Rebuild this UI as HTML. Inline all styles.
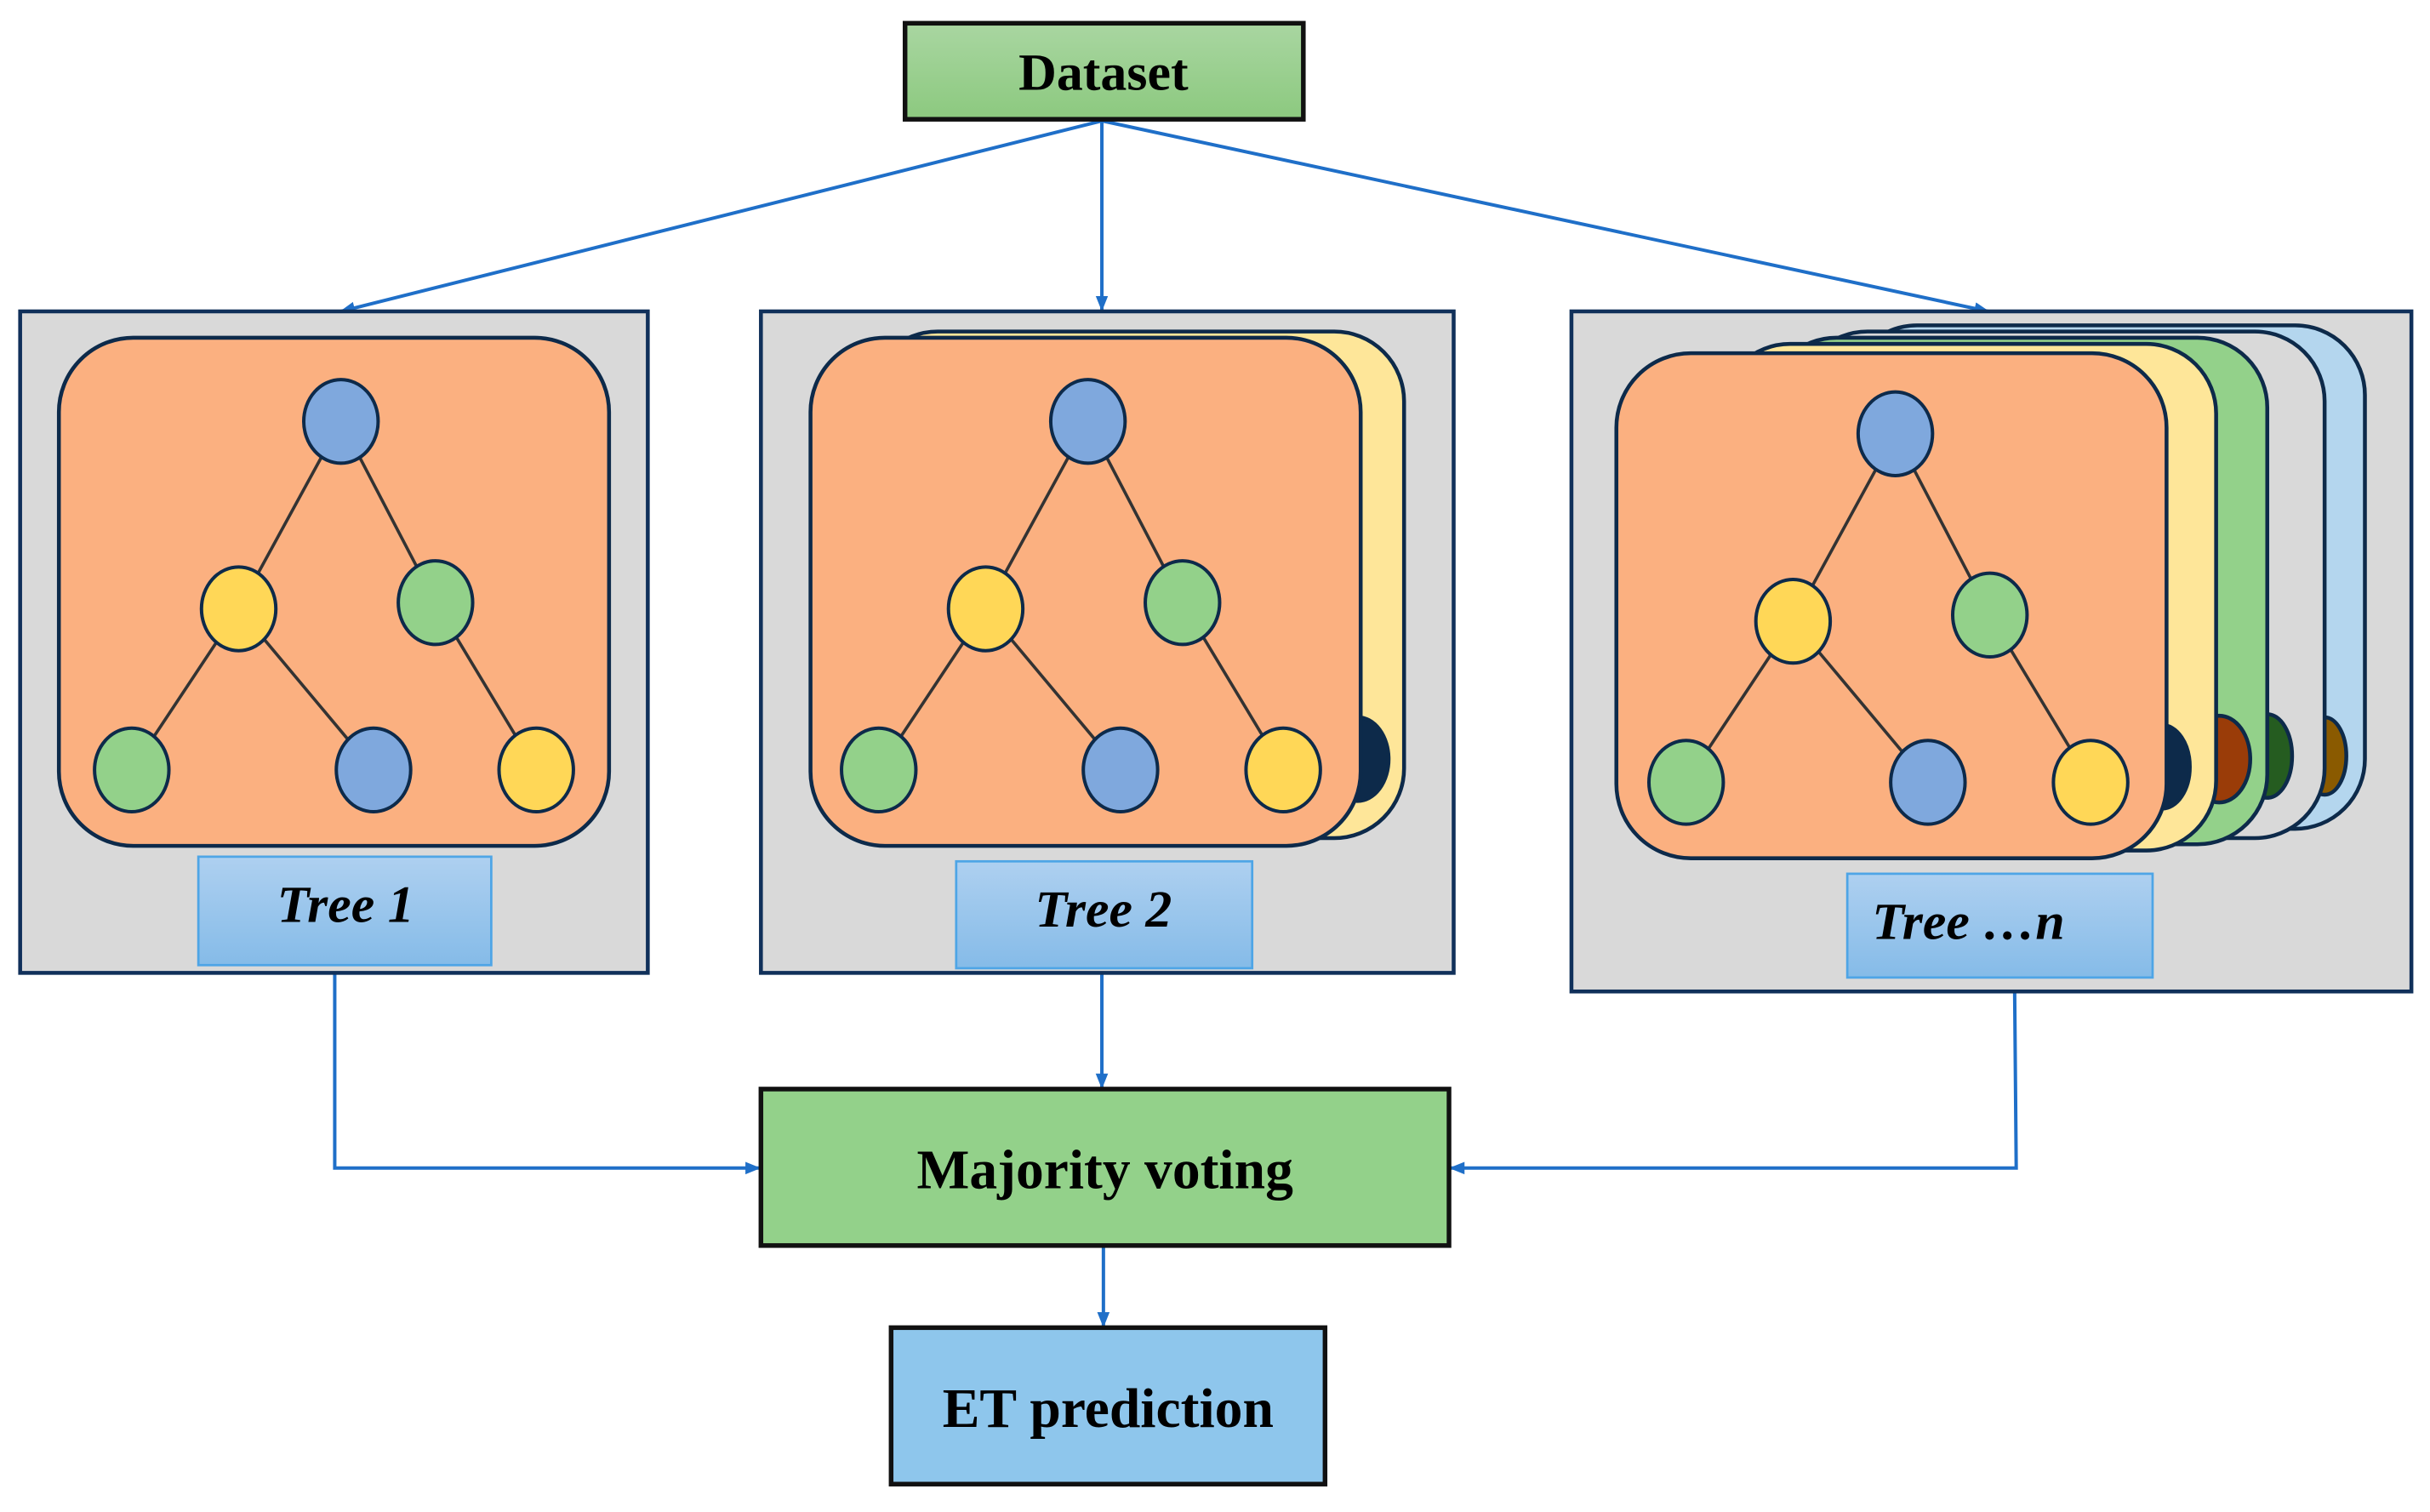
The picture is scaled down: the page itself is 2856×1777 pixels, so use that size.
<!DOCTYPE html>
<html><head><meta charset="utf-8"><style>html,body{margin:0;padding:0;background:#fff}svg{display:block}</style></head>
<body>
<svg width="2856" height="1777" viewBox="0 0 1568 976" preserveAspectRatio="none" xmlns="http://www.w3.org/2000/svg" font-family="'Liberation Serif', serif">
<defs>
<linearGradient id="gG" x1="0" y1="0" x2="0" y2="1"><stop offset="0" stop-color="#a9d6a1"/><stop offset="1" stop-color="#8cc97f"/></linearGradient>
<linearGradient id="gB" x1="0" y1="0" x2="0" y2="1"><stop offset="0" stop-color="#aed0f0"/><stop offset="1" stop-color="#85bbe8"/></linearGradient>
<marker id="ar" markerWidth="10" markerHeight="10" refX="9" refY="5" orient="auto" markerUnits="userSpaceOnUse"><path d="M0,1 L10,5 L0,9 Z" fill="#1f6fc8"/></marker>
</defs>
<g stroke="#1f6fc8" stroke-width="2.2" fill="none" marker-end="url(#ar)">
<line x1="711" y1="78" x2="220" y2="201"/>
<line x1="711" y1="78" x2="711" y2="200"/>
<line x1="711" y1="78" x2="1283" y2="201"/>
<polyline points="216,628 216,754 490,754"/>
<line x1="711" y1="628" x2="711" y2="702"/>
<polyline points="1300,641 1301,754 936,754"/>
<line x1="712" y1="805" x2="712" y2="856"/>
</g>
<rect x="584" y="15" width="257" height="62" fill="url(#gG)" stroke="#111" stroke-width="3"/>
<text x="712" y="58" font-size="34" font-weight="bold" text-anchor="middle">Dataset</text>

<g fill="#d9d9d9" stroke="#10305a" stroke-width="2.5">
<rect x="13" y="201" width="405" height="427"/>
<rect x="491" y="201" width="447" height="427"/>
<rect x="1014" y="201" width="542" height="439"/>
</g>

<g stroke="#0d2a4a" stroke-width="2.5">
<rect x="560" y="214" width="346" height="327" rx="45" fill="#fee699"/>
<ellipse cx="876" cy="490" rx="20" ry="27" fill="#0d2a4a"/>
<rect x="1192" y="210" width="334" height="325" rx="45" fill="#b4d6ee"/>
<ellipse cx="1500" cy="488" rx="14" ry="25" fill="#8a5a00"/>
<rect x="1160" y="214" width="340" height="327" rx="45" fill="#d9d9d9"/>
<ellipse cx="1463" cy="488" rx="16" ry="27" fill="#255c20"/>
<rect x="1140" y="218" width="323" height="327" rx="45" fill="#93d18a"/>
<ellipse cx="1432" cy="490" rx="20" ry="28" fill="#9a3c08"/>
<rect x="1110" y="222" width="320" height="327" rx="45" fill="#fee699"/>
<ellipse cx="1395" cy="495" rx="18" ry="27" fill="#0d2a4a"/>
</g>

<g stroke="#0d2a4a" stroke-width="2.5" fill="#fbb080">
<rect x="38" y="218" width="355" height="328" rx="48"/>
<rect x="523" y="218" width="355" height="328" rx="48"/>
<rect x="1043" y="228" width="355" height="326" rx="48"/>
</g>

<g id="t1">
<g stroke="#333" stroke-width="2">
<line x1="220" y1="272" x2="154" y2="393"/><line x1="220" y1="272" x2="281" y2="389"/>
<line x1="154" y1="393" x2="85" y2="497"/><line x1="154" y1="393" x2="241" y2="497"/>
<line x1="281" y1="389" x2="346" y2="497"/>
</g>
<g stroke="#0d2a4a" stroke-width="2.2">
<ellipse cx="220" cy="272" rx="24" ry="27" fill="#7fa8dd"/>
<ellipse cx="154" cy="393" rx="24" ry="27" fill="#ffd757"/>
<ellipse cx="281" cy="389" rx="24" ry="27" fill="#93d18a"/>
<ellipse cx="85" cy="497" rx="24" ry="27" fill="#93d18a"/>
<ellipse cx="241" cy="497" rx="24" ry="27" fill="#7fa8dd"/>
<ellipse cx="346" cy="497" rx="24" ry="27" fill="#ffd757"/>
</g>
</g>
<use href="#t1" transform="translate(482,0)"/>
<use href="#t1" transform="translate(1003,8)"/>

<g fill="url(#gB)" stroke="#4ea5e6" stroke-width="1.5">
<rect x="128" y="553" width="189" height="70"/>
<rect x="617" y="556" width="191" height="69"/>
<rect x="1192" y="564" width="197" height="67"/>
</g>
<g font-size="34" font-weight="bold" font-style="italic">
<text x="223" y="595" text-anchor="middle">Tree 1</text>
<text x="712" y="598" text-anchor="middle">Tree 2</text>
<text x="1208" y="606">Tree …n</text>
</g>

<rect x="491" y="703" width="444" height="101" fill="#93d18a" stroke="#111" stroke-width="3"/>
<text x="713" y="767" font-size="36" font-weight="bold" text-anchor="middle">Majority voting</text>
<rect x="575" y="857" width="280" height="101" fill="#8ec6ec" stroke="#111" stroke-width="3"/>
<text x="715" y="921" font-size="36" font-weight="bold" text-anchor="middle">ET prediction</text>
</svg>
</body></html>
